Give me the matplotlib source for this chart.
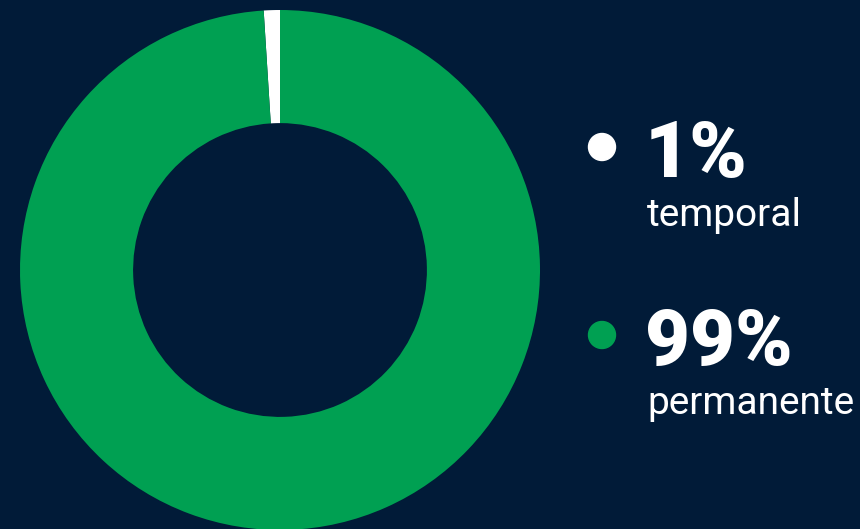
import matplotlib.pyplot as plt
from matplotlib.patches import Ellipse

#%% Data
labels = ["temporal", "permanente"]
values = [1, 99]
pct_labels = ["1%", "99%"]
colors = ["#ffffff", "#00a052"]
bg = "#011b38"

#%% Plot
fig = plt.figure(figsize=(8.6, 5.29), dpi=100)
fig.patch.set_facecolor(bg)

ax = fig.add_axes([20 / 860, -1 / 529, 520 / 860, 520 / 529])
ax.set_facecolor(bg)
ax.pie(values, colors=colors, startangle=90, counterclock=True,
       radius=1, wedgeprops=dict(width=0.435, linewidth=0))
ax.set_xlim(-1, 1)
ax.set_ylim(-1, 1)
ax.set_aspect("equal")
ax.axis("off")

# legend drawn as text
ys = [147, 335]
for y, pct, lab, col in zip(ys, pct_labels, labels, colors):
    fy = 1 - y / 529
    fig.patches.append(Ellipse((602 / 860, fy), 27 / 860, 27 / 529, color=col,
                               transform=fig.transFigure, figure=fig))
    fig.text(645 / 860, 1 - (y + 30) / 529, pct, color="white", fontsize=56,
             fontfamily="Roboto", fontweight="black", fontstyle="normal",
             va="baseline", ha="left")
    fig.text(647 / 860, 1 - (y + 79) / 529, lab, color="white", fontsize=28,
             fontfamily="Roboto", va="baseline", ha="left")

fig.savefig("out.png", dpi=100, facecolor=bg)
